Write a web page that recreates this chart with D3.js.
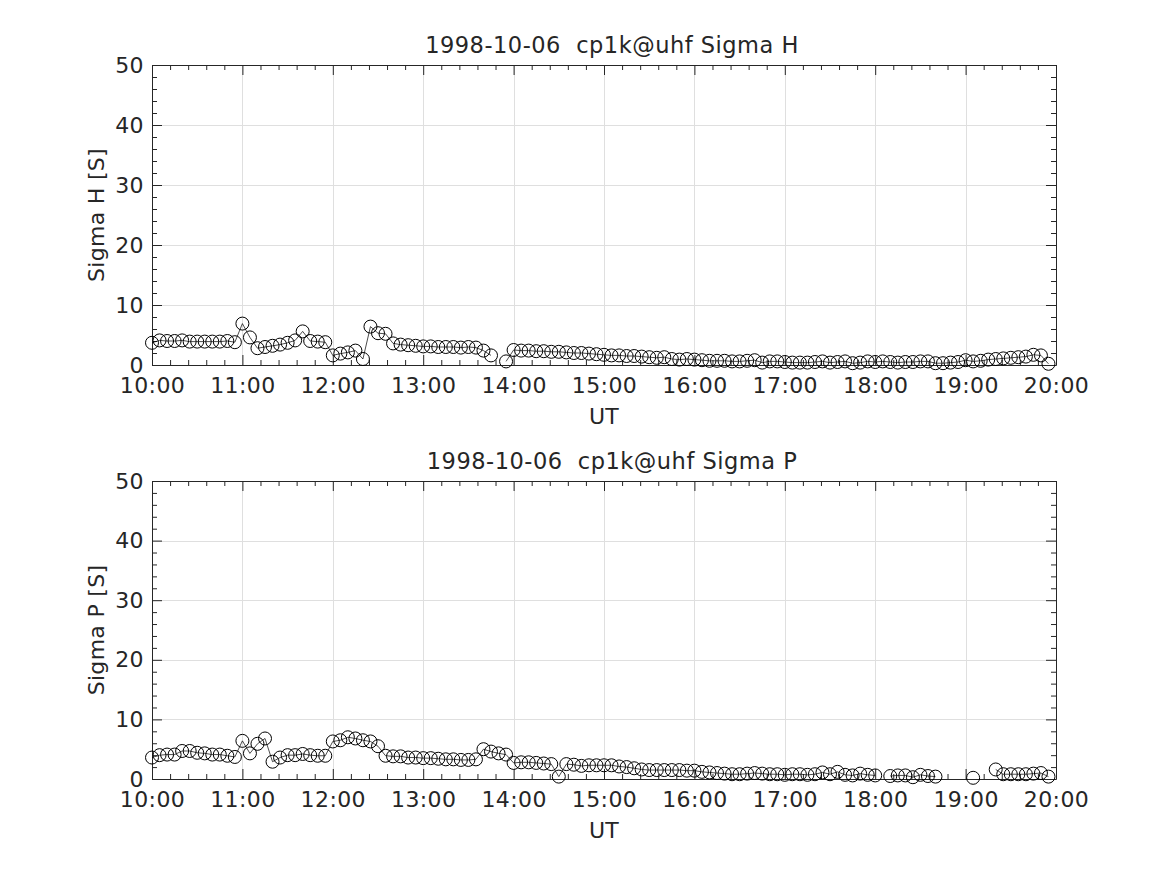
<!DOCTYPE html>
<html>
<head>
<meta charset="utf-8">
<title>Sigma H / Sigma P</title>
<script src="https://d3js.org/d3.v7.min.js"></script>
<style>
    body { margin: 0; background: #fff; }
    svg { font-family: "DejaVu Sans", sans-serif; }
    .grid line { stroke: #dfdfdf; stroke-width: 1px; shape-rendering: crispEdges; }
    .axis path, .axis line { stroke: #262626; }
    .axis text { fill: #262626; font-size: 22px; letter-spacing: 0.4px; font-family: "DejaVu Sans", sans-serif; }
    .trace { fill: none; stroke: #000; stroke-width: 0.7px; }
    .marker { fill: none; stroke: #000; stroke-width: 1px; }
    .label { fill: #262626; font-size: 22px; letter-spacing: 0.3px; white-space: pre; }
    .title { font-size: 22.5px; letter-spacing: 0.5px; }
</style>
</head>
<body>
<div id="chart"></div>
<script>
const times = [
    '10:00','10:05','10:10','10:15','10:20','10:25','10:30','10:35','10:40','10:45','10:50','10:55',
    '11:00','11:05','11:10','11:15','11:20','11:25','11:30','11:35','11:40','11:45','11:50','11:55',
    '12:00','12:05','12:10','12:15','12:20','12:25','12:30','12:35','12:40','12:45','12:50','12:55',
    '13:00','13:05','13:10','13:15','13:20','13:25','13:30','13:35','13:40','13:45','13:50','13:55',
    '14:00','14:05','14:10','14:15','14:20','14:25','14:30','14:35','14:40','14:45','14:50','14:55',
    '15:00','15:05','15:10','15:15','15:20','15:25','15:30','15:35','15:40','15:45','15:50','15:55',
    '16:00','16:05','16:10','16:15','16:20','16:25','16:30','16:35','16:40','16:45','16:50','16:55',
    '17:00','17:05','17:10','17:15','17:20','17:25','17:30','17:35','17:40','17:45','17:50','17:55',
    '18:00','18:05','18:10','18:15','18:20','18:25','18:30','18:35','18:40','18:45','18:50','18:55',
    '19:00','19:05','19:10','19:15','19:20','19:25','19:30','19:35','19:40','19:45','19:50','19:55'
];

// Sigma H [S], null = no data
const sigmaH = [
    3.7, 4.1, 4.0, 4.0, 4.1, 3.9, 3.9, 3.9, 3.9, 3.9, 4.0, 3.8,
    6.9, 4.6, 2.8, 3.0, 3.2, 3.4, 3.7, 4.1, 5.6, 4.0, 3.9, 3.8,
    1.6, 1.9, 2.1, 2.4, 1.0, 6.4, 5.3, 5.2, 3.6, 3.4, 3.3, 3.2,
    3.1, 3.1, 3.0, 3.0, 3.0, 2.9, 3.0, 2.9, 2.4, 1.6, null, 0.6,
    2.5, 2.4, 2.4, 2.3, 2.3, 2.2, 2.2, 2.1, 2.0, 2.0, 1.9, 1.8,
    1.7, 1.6, 1.6, 1.5, 1.5, 1.4, 1.3, 1.2, 1.3, 1.0, 0.9, 1.0,
    0.9, 0.8, 0.7, 0.7, 0.7, 0.6, 0.6, 0.7, 0.8, 0.4, 0.6, 0.6,
    0.5, 0.4, 0.4, 0.4, 0.5, 0.6, 0.4, 0.5, 0.6, 0.3, 0.4, 0.6,
    0.5, 0.6, 0.5, 0.4, 0.5, 0.5, 0.6, 0.6, 0.3, 0.3, 0.4, 0.5,
    0.8, 0.6, 0.7, 0.9, 1.0, 1.1, 1.2, 1.3, 1.4, 1.7, 1.6, 0.2
];

// Sigma P [S]
const sigmaP = [
    3.6, 4.0, 4.1, 4.1, 4.7, 4.7, 4.4, 4.3, 4.1, 4.1, 3.9, 3.7,
    6.4, 4.3, 5.9, 6.8, 2.9, 3.6, 4.0, 4.0, 4.2, 4.0, 3.9, 3.9,
    6.3, 6.5, 7.0, 6.8, 6.5, 6.3, 5.5, 3.9, 3.8, 3.8, 3.6, 3.6,
    3.5, 3.5, 3.4, 3.3, 3.3, 3.2, 3.2, 3.3, 5.0, 4.6, 4.3, 4.1,
    2.7, 2.8, 2.8, 2.7, 2.6, 2.5, 0.4, 2.5, 2.4, 2.2, 2.3, 2.3,
    2.3, 2.3, 2.1, 2.0, 1.8, 1.6, 1.5, 1.5, 1.5, 1.5, 1.5, 1.4,
    1.4, 1.2, 1.1, 1.0, 0.9, 0.8, 0.8, 0.9, 1.0, 0.9, 0.8, 0.8,
    0.7, 0.8, 0.8, 0.7, 0.8, 1.1, 0.8, 1.2, 0.7, 0.6, 0.9, 0.7,
    0.6, null, 0.5, 0.6, 0.6, 0.3, 0.7, 0.5, 0.4, null, null, null,
    null, 0.2, null, null, 1.6, 0.8, 0.8, 0.8, 0.8, 0.9, 1.0, 0.4
];

const yTicks = [0, 10, 20, 30, 40, 50];
const day = '1998-10-06';
const timeRange = ['10:00', '20:00'];
const panels = [
    { title: '1998-10-06  cp1k@uhf Sigma H', ylabel: 'Sigma H [S]', values: sigmaH, top: 65, height: 300 },
    { title: '1998-10-06  cp1k@uhf Sigma P', ylabel: 'Sigma P [S]', values: sigmaP, top: 481, height: 298 }
];

const svgWidth = 1167, svgHeight = 875;
const left = 152, right = 1056;

const parseTime = d3.utcParse('%Y-%m-%d %H:%M');
const x = d3.scaleUtc()
    .domain(timeRange.map(t => parseTime(day + ' ' + t)))
    .range([left, right]);

const xMajor = x.ticks(d3.utcHour.every(1));
const xMinor = x.ticks(d3.utcMinute.every(12)).filter(d => d.getUTCMinutes() !== 0);
const yMinor = d3.range(0, 51, 2).filter(v => v % 10 !== 0);

const svg = d3.select('#chart')
    .append('svg')
    .attr('width', svgWidth)
    .attr('height', svgHeight);

panels.forEach(function (p) {
    const bottom = p.top + p.height;
    const y = d3.scaleLinear().domain([0, 50]).range([bottom, p.top]);
    const g = svg.append('g');

    const data = times.map((t, i) => ({ t: parseTime(day + ' ' + t), v: p.values[i] }));

    // grid
    const grid = g.append('g').attr('class', 'grid');
    grid.selectAll('.gx')
        .data(xMajor)
        .enter()
        .append('line')
        .attr('x1', d => Math.round(x(d)) + 0.5)
        .attr('x2', d => Math.round(x(d)) + 0.5)
        .attr('y1', p.top)
        .attr('y2', bottom);
    grid.selectAll('.gy')
        .data(yTicks)
        .enter()
        .append('line')
        .attr('x1', left)
        .attr('x2', right)
        .attr('y1', d => Math.round(y(d)) + 0.5)
        .attr('y2', d => Math.round(y(d)) + 0.5);

    // axes (ticks pointing inward, box on)
    g.append('g').attr('class', 'axis')
        .attr('transform', 'translate(0,' + bottom + ')')
        .call(d3.axisBottom(x).tickValues(xMajor).tickFormat(d3.utcFormat('%H:%M'))
            .tickSizeInner(-10).tickSizeOuter(0).tickPadding(12));
    g.append('g').attr('class', 'axis')
        .attr('transform', 'translate(0,' + p.top + ')')
        .call(d3.axisTop(x).tickValues(xMajor).tickFormat('').tickSizeInner(-10).tickSizeOuter(0));
    g.append('g').attr('class', 'axis')
        .attr('transform', 'translate(' + left + ',0)')
        .call(d3.axisLeft(y).tickValues(yTicks).tickSizeInner(-10).tickSizeOuter(0).tickPadding(8));
    g.append('g').attr('class', 'axis')
        .attr('transform', 'translate(' + right + ',0)')
        .call(d3.axisRight(y).tickValues(yTicks).tickFormat('').tickSizeInner(-10).tickSizeOuter(0));

    // minor ticks
    const minor = [
        [d3.axisBottom(x).tickValues(xMinor), 'translate(0,' + bottom + ')'],
        [d3.axisTop(x).tickValues(xMinor), 'translate(0,' + p.top + ')'],
        [d3.axisLeft(y).tickValues(yMinor), 'translate(' + left + ',0)'],
        [d3.axisRight(y).tickValues(yMinor), 'translate(' + right + ',0)']
    ];
    minor.forEach(function (m) {
        const a = g.append('g').attr('class', 'axis').attr('transform', m[1])
            .call(m[0].tickFormat('').tickSizeInner(-5).tickSizeOuter(0));
        a.select('.domain').remove();
    });

    // data
    const line = d3.line()
        .defined(d => d.v !== null)
        .x(d => x(d.t))
        .y(d => y(d.v));
    g.append('path')
        .datum(data)
        .attr('class', 'trace')
        .attr('d', line);
    g.selectAll('.marker')
        .data(data.filter(d => d.v !== null))
        .enter()
        .append('circle')
        .attr('class', 'marker')
        .attr('cx', d => x(d.t))
        .attr('cy', d => y(d.v))
        .attr('r', 6.5);

    // labels
    g.append('text')
        .attr('class', 'label title')
        .attr('x', (left + right) / 2 + 8)
        .attr('y', p.top - 12)
        .attr('text-anchor', 'middle')
        .attr('xml:space', 'preserve')
        .text(p.title);
    g.append('text')
        .attr('class', 'label')
        .attr('x', (left + right) / 2)
        .attr('y', bottom + 59)
        .attr('text-anchor', 'middle')
        .text('UT');
    g.append('text')
        .attr('class', 'label')
        .attr('transform', 'translate(104,' + (p.top + p.height / 2) + ') rotate(-90)')
        .attr('text-anchor', 'middle')
        .text(p.ylabel);
});
</script>
</body>
</html>
